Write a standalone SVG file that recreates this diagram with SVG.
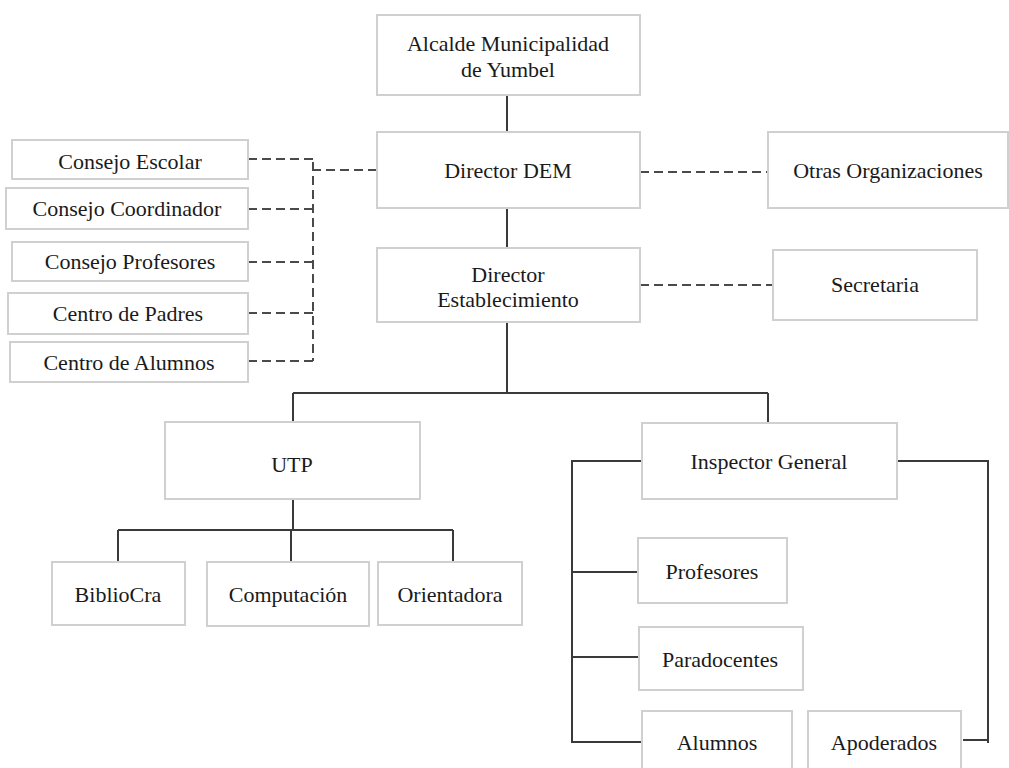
<svg xmlns="http://www.w3.org/2000/svg" width="1009" height="768" viewBox="0 0 1009 768">
<style>
.box{fill:#fff;stroke:#d0d0d0;stroke-width:2}
.t{font-family:'Liberation Serif','Tinos','DejaVu Serif',serif;font-size:22px;fill:#1a1a1a;text-anchor:middle}
.c{fill:none;stroke:#3a3a3a;stroke-width:2}
.d{fill:none;stroke:#4a4a4a;stroke-width:2;stroke-dasharray:9 5}
</style>
<rect width="1009" height="768" fill="#fff"/>
<g id="connectors">
<path class="c" d="M507 95V132M507 208V248M507 322V393M293 393H768M293 393V423M768 393V423"/>
<path class="c" d="M293 499V530M118 530H453M118 530V562M291 530V562M453 530V562"/>
<path class="c" d="M642 461H572V743M572 572H638M572 657H639M572 742H642M897 461H988V743M963 740H988"/>
<path class="d" d="M640 172H768M640 285H773M377 170H313M313 162V361M248 159H313M248 209H313M248 262H313M248 313H313M248 361H313"/>
</g>
<g id="alcalde"><rect class="box" x="377" y="15" width="263" height="80"/><text class="t" x="508" y="51">Alcalde Municipalidad</text><text class="t" x="508" y="77">de Yumbel</text></g>
<g id="director-dem"><rect class="box" x="377" y="132" width="263" height="76"/><text class="t" x="508" y="178">Director DEM</text></g>
<g id="director-est"><rect class="box" x="377" y="248" width="263" height="74"/><text class="t" x="508" y="282">Director</text><text class="t" x="508" y="307">Establecimiento</text></g>
<g id="otras"><rect class="box" x="768" y="132" width="240" height="76"/><text class="t" x="888" y="178">Otras Organizaciones</text></g>
<g id="secretaria"><rect class="box" x="773" y="250" width="204" height="70"/><text class="t" x="875" y="292">Secretaria</text></g>
<g id="consejo-escolar"><rect class="box" x="12" y="140" width="236" height="39"/><text class="t" x="130" y="169">Consejo Escolar</text></g>
<g id="consejo-coordinador"><rect class="box" x="6" y="188" width="242" height="41"/><text class="t" x="127" y="216">Consejo Coordinador</text></g>
<g id="consejo-profesores"><rect class="box" x="12" y="242" width="236" height="39"/><text class="t" x="130" y="269">Consejo Profesores</text></g>
<g id="centro-padres"><rect class="box" x="8" y="293" width="240" height="41"/><text class="t" x="128" y="321">Centro de Padres</text></g>
<g id="centro-alumnos"><rect class="box" x="10" y="342" width="238" height="40"/><text class="t" x="129" y="370">Centro de Alumnos</text></g>
<g id="utp"><rect class="box" x="165" y="422" width="255" height="77"/><text class="t" x="292" y="472">UTP</text></g>
<g id="inspector"><rect class="box" x="642" y="423" width="255" height="76"/><text class="t" x="769" y="469">Inspector General</text></g>
<g id="biblio"><rect class="box" x="52" y="562" width="133" height="63"/><text class="t" x="118" y="602">BiblioCra</text></g>
<g id="computacion"><rect class="box" x="207" y="562" width="162" height="64"/><text class="t" x="288" y="602">Computación</text></g>
<g id="orientadora"><rect class="box" x="378" y="562" width="144" height="63"/><text class="t" x="450" y="602">Orientadora</text></g>
<g id="profesores"><rect class="box" x="638" y="538" width="149" height="65"/><text class="t" x="712" y="579">Profesores</text></g>
<g id="paradocentes"><rect class="box" x="639" y="627" width="164" height="63"/><text class="t" x="720" y="667">Paradocentes</text></g>
<g id="alumnos"><rect class="box" x="642" y="711" width="150" height="70"/><text class="t" x="717" y="750">Alumnos</text></g>
<g id="apoderados"><rect class="box" x="808" y="711" width="153" height="70"/><text class="t" x="884" y="750">Apoderados</text></g>
</svg>
